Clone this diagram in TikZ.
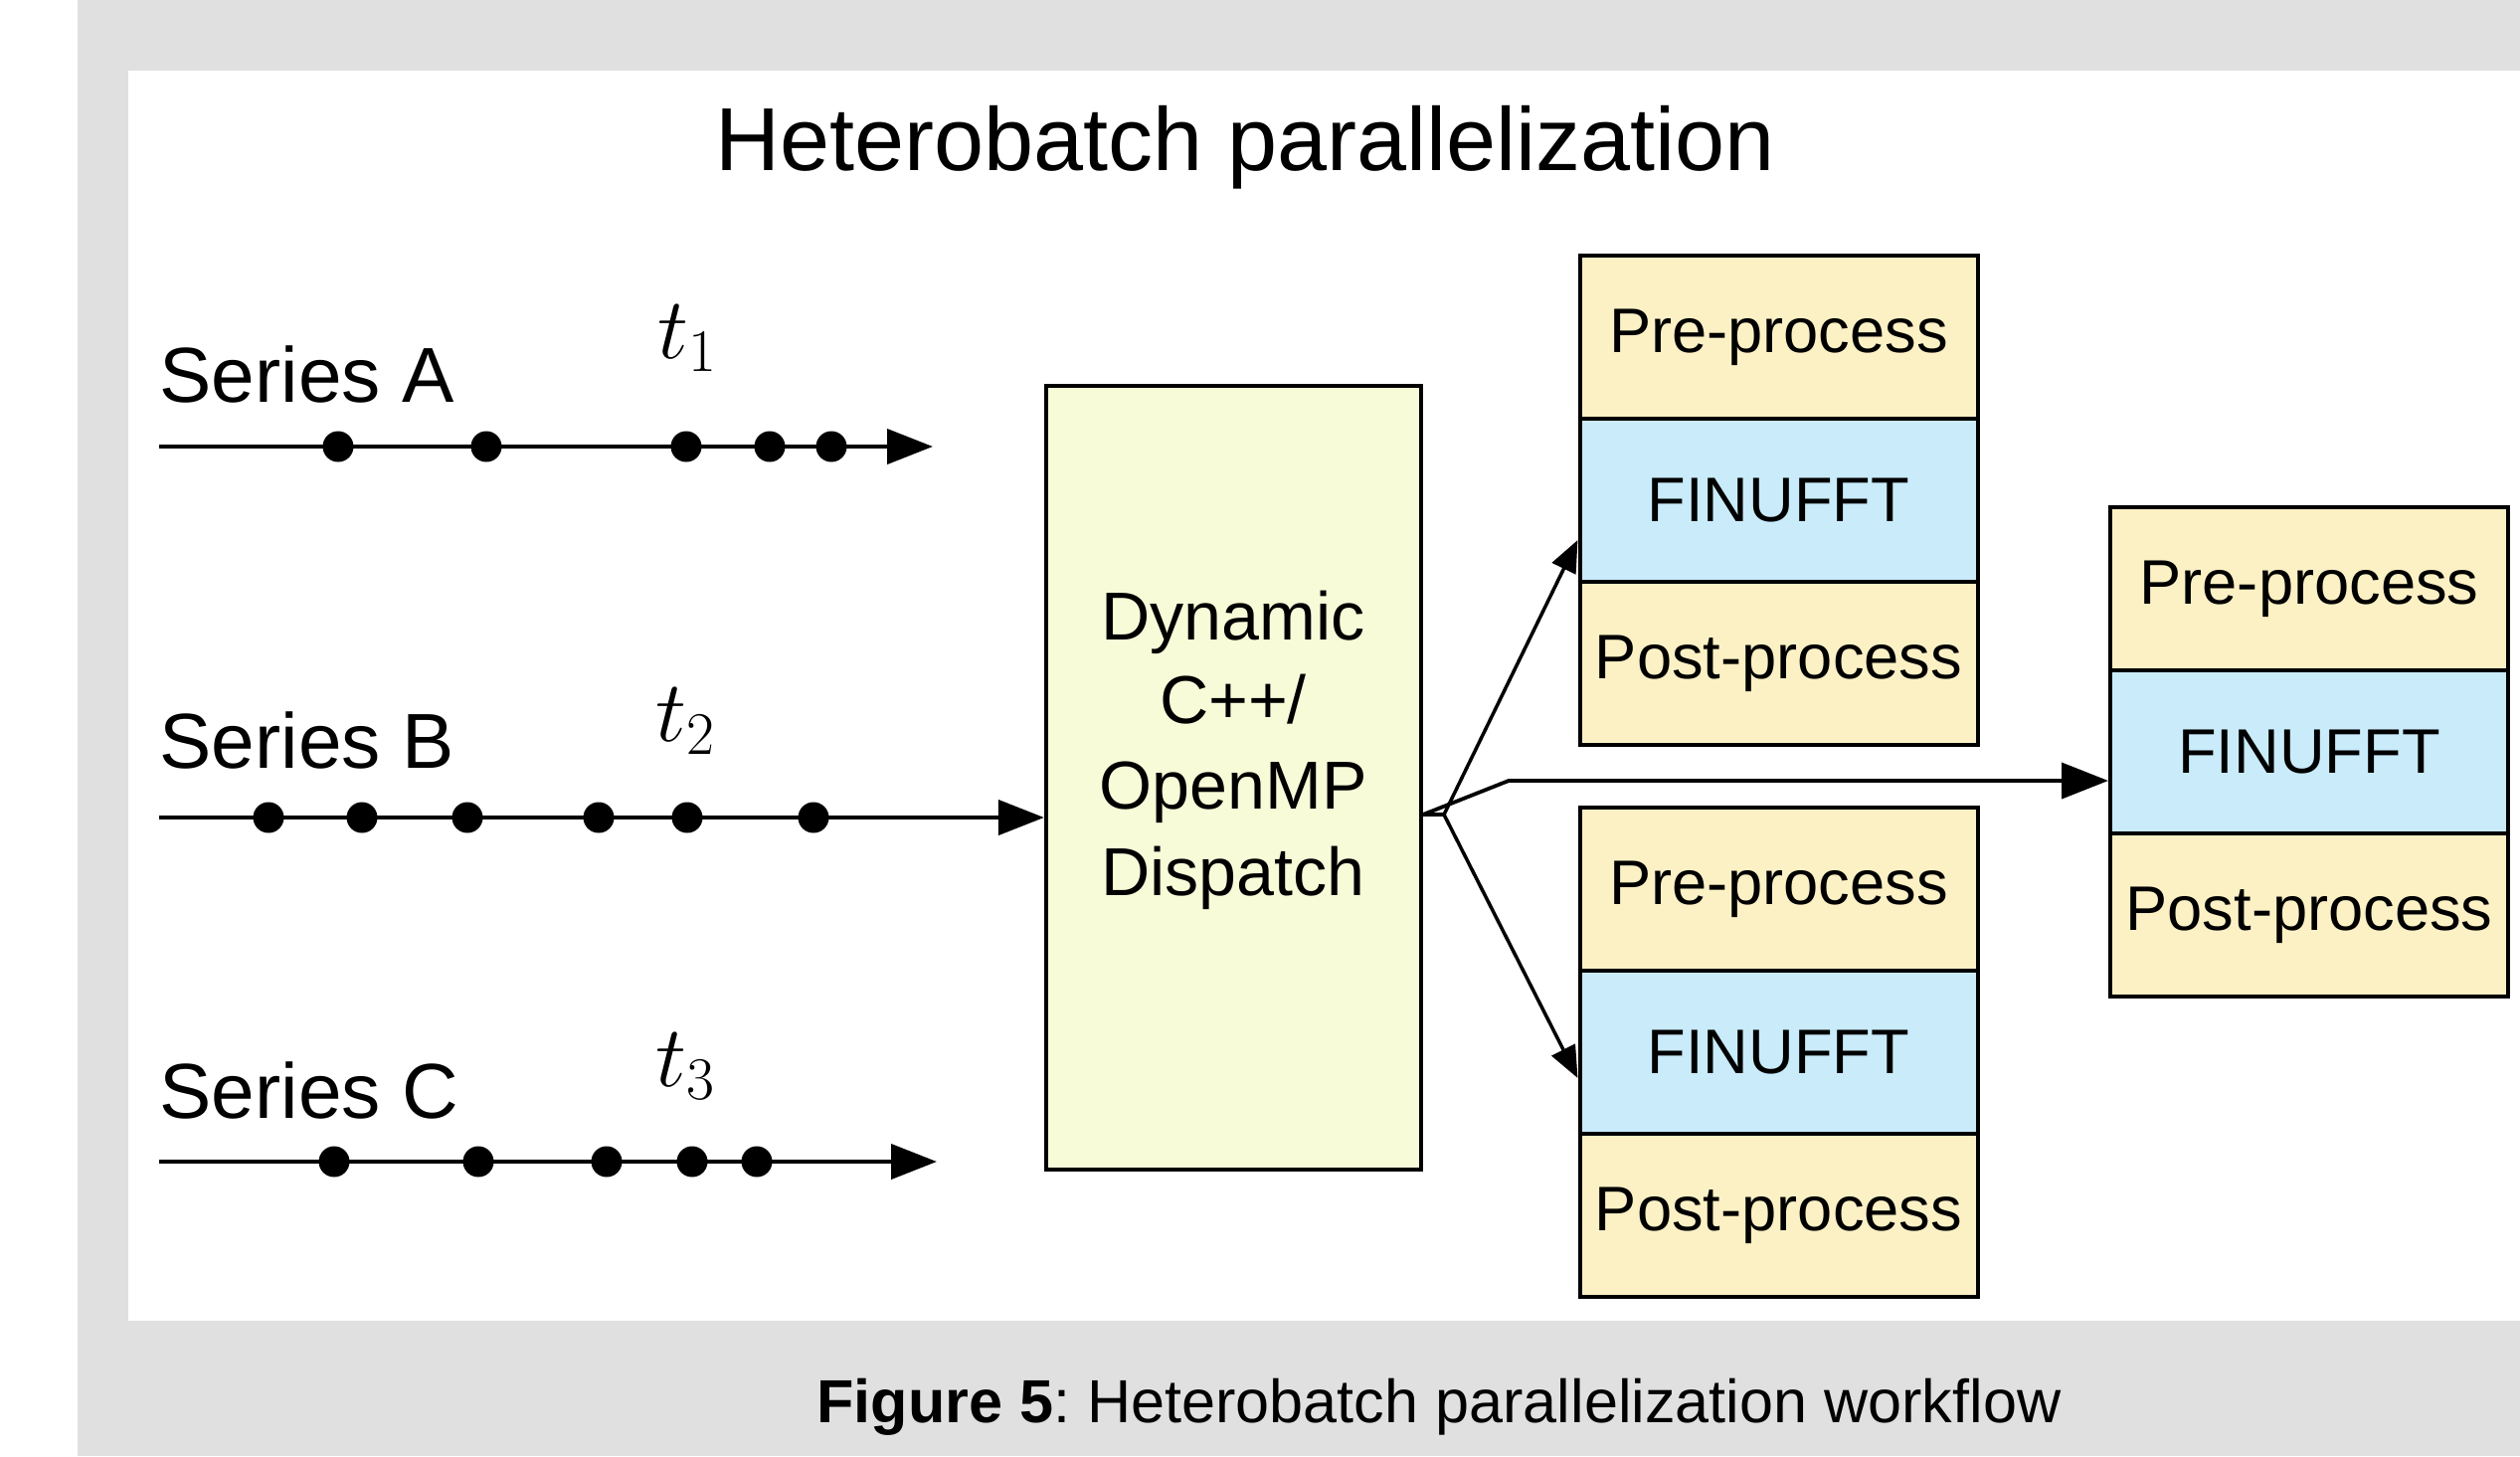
\documentclass[tikz,border=0pt]{standalone}
\usepackage{fontspec}
\setmainfont{Liberation Sans}
\usetikzlibrary{arrows.meta,calc}
\definecolor{bggray}{HTML}{E0E0E0}
\definecolor{dispfill}{HTML}{F8FBD8}
\definecolor{prefill}{HTML}{FCF1C5}
\definecolor{finfill}{HTML}{C9EBFA}
\frenchspacing
\begin{document}
\begin{tikzpicture}[x=0.1mm,y=-0.1mm,
  sec/.style={draw=black,line width=0.4mm,minimum width=40mm,minimum height=16.4mm,inner sep=0pt,font=\fontsize{18}{21}\selectfont},
  presec/.style={sec,fill=prefill},
  finsec/.style={sec,fill=finfill},
  serieslbl/.style={anchor=base west,inner sep=0pt,font=\fontsize{22.3}{26}\selectfont},
  tlbl/.style={anchor=base,inner sep=0pt,font=\fontsize{23}{27}\selectfont},
  dot/.style={circle,fill=black,inner sep=0pt,minimum size=3.1mm},
  timeline/.style={line width=0.42mm,-{Triangle[length=4.6mm,width=3.5mm]}},
  thinarrow/.style={line width=0.35mm,-{Triangle[length=3.2mm,width=2.6mm]}},
  disptxt/.style={anchor=base,inner sep=0pt,font=\fontsize{19.4}{23}\selectfont}]
% background
\useasboundingbox (0,0) rectangle (2534,1464);
\fill[white] (0,0) rectangle (2534,1464);
\fill[bggray] (78,0) rectangle (2534,1464);
\fill[white] (129,71) rectangle (2534,1328);
% title
\node[anchor=base,inner sep=0pt,font=\fontsize{25.6}{30}\selectfont] (title) at (1252,171) {Heterobatch parallelization};
% series labels
\node[serieslbl] (serA) at (160,404) {Series A};
\node[serieslbl] (serB) at (160,772) {Series B};
\node[serieslbl] (serC) at (160,1124) {Series C};
\node[tlbl] (t1) at (692,360) {$t_1$};
\node[tlbl] (t2) at (690,745) {$t_2$};
\node[tlbl] (t3) at (690,1092) {$t_3$};
% dispatch box
\node[draw=black,line width=0.42mm,fill=dispfill,minimum width=37.7mm,minimum height=78.8mm,inner sep=0pt] (dispatch) at (1240.5,782) {};
\node[disptxt] (d1) at (1240,643) {Dynamic};
\node[disptxt] (d2) at (1240,727) {C++/};
\node[disptxt] (d3) at (1240,813) {OpenMP};
\node[disptxt] (d4) at (1240,900) {Dispatch};
% timelines
\coordinate (aS) at (160,449);
\coordinate (aE) at (938,449);
\coordinate (bS) at (160,822);
\coordinate (cS) at (160,1168);
\coordinate (cE) at (942,1168);
\draw[timeline] (aS) -- (aE);
\draw[timeline] (bS) -- (dispatch.west |- bS);
\draw[timeline] (cS) -- (cE);
\foreach \x [count=\i] in {340,489,690,774,836} \node[dot] (dA\i) at (\x,449) {};
\foreach \x [count=\i] in {270,364,470,602,691,818} \node[dot] (dB\i) at (\x,822) {};
\foreach \x [count=\i] in {336,481,610,696,761} \node[dot] (dC\i) at (\x,1168) {};
% stacks
\node[presec] (tpre) at (1788.5,339) {Pre-process};
\node[finsec] (tfin) at (1788.5,503) {FINUFFT};
\node[presec] (tpost) at (1788.5,667) {Post-process};
\node[presec] (bpre) at (1788.5,894) {Pre-process};
\node[finsec] (bfin) at (1788.5,1058) {FINUFFT};
\node[presec] (bpost) at (1788.5,1222) {Post-process};
\node[presec] (rpre) at (2322,592) {Pre-process};
\node[finsec] (rfin) at (2322,756) {FINUFFT};
\node[presec] (rpost) at (2322,920) {Post-process};
% dispatch arrows
\coordinate (br) at (1452,819);
\coordinate (mk) at (1517,785);
\draw[line width=0.35mm] (dispatch.east |- br) -- (br);
\draw[thinarrow] (br) -- ($(tfin.west)+(0,40)$);
\draw[thinarrow] (br) -- ($(bfin.west)+(0,26)$);
\draw[line width=0.38mm,-{Triangle[length=4.7mm,width=3.6mm]}] (dispatch.east |- br) -- (mk) -- (mk -| rfin.west);
% caption
\node[anchor=base,inner sep=0pt,font=\fontsize{17.4}{21}\selectfont] (caption) at (1447,1430) {\textbf{Figure 5}: Heterobatch parallelization workflow};
\end{tikzpicture}
\end{document}
